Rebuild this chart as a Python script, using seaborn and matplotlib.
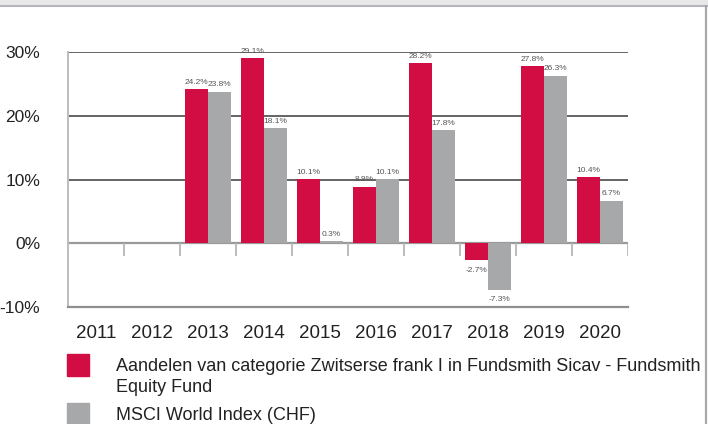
import numpy as np
import pandas as pd
import matplotlib
matplotlib.use('Agg')
import matplotlib.pyplot as plt
from matplotlib.patches import Rectangle
from matplotlib.lines import Line2D
import seaborn as sns

# Data
years = ['2011', '2012', '2013', '2014', '2015', '2016', '2017', '2018', '2019', '2020']
fund = [np.nan, np.nan, 24.2, 29.1, 10.1, 8.9, 28.2, -2.7, 27.8, 10.4]
index = [np.nan, np.nan, 23.8, 18.1, 0.3, 10.1, 17.8, -7.3, 26.3, 6.7]
fund_name = 'Aandelen van categorie Zwitserse frank I in Fundsmith Sicav - Fundsmith\nEquity Fund'
index_name = 'MSCI World Index (CHF)'
yticks = [-10, 0, 10, 20, 30]

RED = '#D20D43'
GREY = '#A7A8AA'

df = pd.DataFrame({
    'year': years * 2,
    'value': fund + index,
    'series': [fund_name] * len(years) + [index_name] * len(years),
})

sns.set_style('white')
plt.rcParams['font.family'] = ['Liberation Sans', 'DejaVu Sans']

fig = plt.figure(figsize=(7.08, 4.24), dpi=100)
ax = fig.add_axes([68 / 708, 1 - 307 / 424, 560 / 708, 255 / 424])

sns.barplot(data=df, x='year', y='value', hue='series', palette=[RED, GREY],
            width=0.82, saturation=1, ax=ax, legend=False, order=years,
            linewidth=0, edgecolor='none')

ax.set_ylim(-10, 30)
ax.set_xlim(-0.5, len(years) - 0.5)
ax.set_xlabel('')
ax.set_ylabel('')

# gridlines
for v in [10, 20, 30]:
    ax.axhline(v, color='#3a3a3a', lw=1.1, zorder=0.5)
ax.axhline(0, color='#9a9a9a', lw=1.6, zorder=0.5)

for s in ['top', 'right']:
    ax.spines[s].set_visible(False)
ax.spines['left'].set_color('#bdbdbd')
ax.spines['left'].set_linewidth(1.4)
ax.spines['bottom'].set_color('#8f8f8f')
ax.spines['bottom'].set_linewidth(1.6)

ax.set_yticks(yticks)
ax.set_yticklabels([f'{t}%' for t in yticks], fontsize=12.5, color='#222222')
ax.tick_params(axis='y', length=10, width=1.4, color='#c4c4c4', pad=10, direction='out')
ax.tick_params(axis='x', length=0, pad=13, labelsize=13.5, labelcolor='#222222')

# category separators on zero line
bounds = np.arange(1, len(years) + 1) - 0.5
ax.vlines(bounds, -2.0, 0, color='#b0b0b0', lw=1.2, zorder=0.6)

# value labels
for cont in ax.containers:
    for bar in cont:
        h = bar.get_height()
        if np.isnan(h):
            continue
        x = bar.get_x() + bar.get_width() / 2
        if h >= 0:
            ax.text(x, h + 0.5, f'{h:.1f}%', ha='center', va='bottom',
                    fontsize=6, color='#555555', clip_on=False)
        else:
            ax.text(x, h - 1.0, f'{h:.1f}%', ha='center', va='top',
                    fontsize=6, color='#555555', clip_on=False)

# legend
fig.add_artist(Rectangle((67 / 708, 1 - 376 / 424), 22 / 708, 22 / 424,
                         transform=fig.transFigure, color=RED))
fig.add_artist(Rectangle((67 / 708, 1 - 425 / 424), 22 / 708, 22 / 424,
                         transform=fig.transFigure, color=GREY))
fig.text(116 / 708, 1 - 377 / 424, fund_name, fontsize=13, color='#222222',
         va='center', linespacing=1.28)
fig.text(116 / 708, 1 - 415 / 424, index_name, fontsize=13, color='#222222',
         va='center')

# frame decorations
fig.add_artist(Rectangle((0, 1 - 5 / 424), 1, 5 / 424, transform=fig.transFigure,
                         color='#e8e8e8'))
fig.add_artist(Line2D([0, 1], [1 - 5.5 / 424] * 2, transform=fig.transFigure,
                      color='#b4b4bc', lw=1.5))
fig.add_artist(Line2D([706 / 708] * 2, [0, 1 - 5.5 / 424], transform=fig.transFigure,
                      color='#a8a8a8', lw=1.6))

fig.savefig('out.png', dpi=100)
